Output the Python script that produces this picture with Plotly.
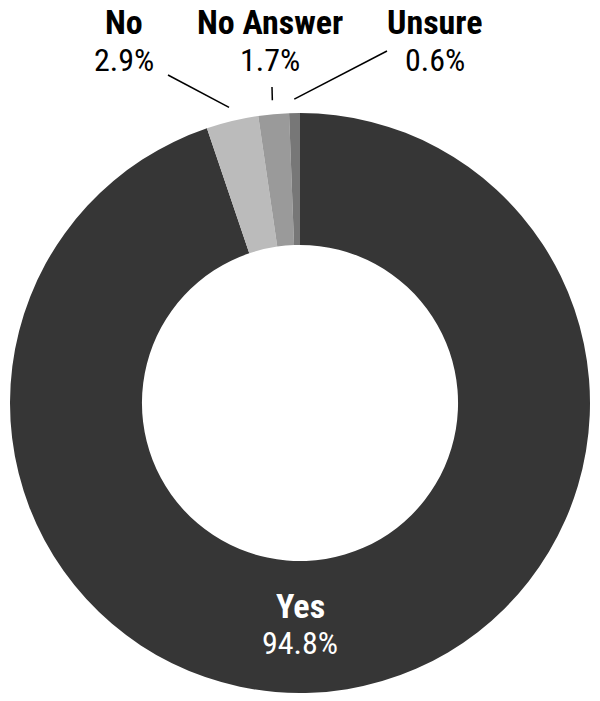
import math
import plotly.graph_objects as go

labels = ["Yes", "No", "No Answer", "Unsure"]
values = [94.8, 2.9, 1.7, 0.6]
pct_text = ["94.8%", "2.9%", "1.7%", "0.6%"]
colors = ["#363636", "#bbbbbb", "#9a9a9a", "#777777"]

W, H = 600, 701
CX, CY, R, HOLE = 300, 403, 290, 0.545
FONT = "Liberation Sans Narrow, Roboto Condensed, Arial Narrow, Roboto, sans-serif"


def px(x):
    return x / W


def py(y):
    return 1 - y / H


fig = go.Figure()
fig.add_trace(go.Pie(
    labels=labels,
    values=values,
    marker=dict(colors=colors, line=dict(width=0)),
    hole=HOLE,
    sort=False,
    direction="clockwise",
    rotation=0,
    textinfo="none",
    hoverinfo="label+percent",
    showlegend=False,
    domain=dict(x=[px(CX - R), px(CX + R)], y=[py(CY + R), py(CY - R)]),
))

# label layout: (label centre x, bold-label y centre, pct y centre, leader start or None, colour)
label_pos = {
    "Yes": (300, 605, 642, None, "white"),
    "No": (124, 22, 59, (168, 75), "black"),
    "No Answer": (270, 22, 59, (272, 87), "black"),
    "Unsure": (435, 22, 59, (387, 51), "black"),
}

total = sum(values)
cum = 0.0
for lab, val, pt in zip(labels, values, pct_text):
    mid = (cum + val / 2) / total * 2 * math.pi
    cum += val
    x, yl, yp, start, col = label_pos[lab]
    fig.add_annotation(x=px(x), y=py(yl), xref="paper", yref="paper", text=f"<b>{lab}</b>",
                       showarrow=False, xanchor="center", yanchor="middle",
                       height=29, borderpad=0,
                       font=dict(family=FONT, size=34, color=col))
    fig.add_annotation(x=px(x), y=py(yp), xref="paper", yref="paper", text=pt,
                       showarrow=False, xanchor="center", yanchor="middle",
                       height=29, borderpad=0,
                       font=dict(family=FONT, size=32, color=col))
    if start is not None:
        rr = R + 14
        ex = CX + rr * math.sin(mid)
        ey = CY - rr * math.cos(mid)
        fig.add_shape(type="line", xref="paper", yref="paper",
                      x0=px(start[0]), y0=py(start[1]), x1=px(ex), y1=py(ey),
                      line=dict(color="black", width=1.5))

fig.update_layout(
    width=W, height=H,
    margin=dict(l=0, r=0, t=0, b=0),
    paper_bgcolor="white",
    plot_bgcolor="white",
)

fig.write_html("out.html", config={"displayModeBar": False},
               post_script="document.body.style.margin='0';")
